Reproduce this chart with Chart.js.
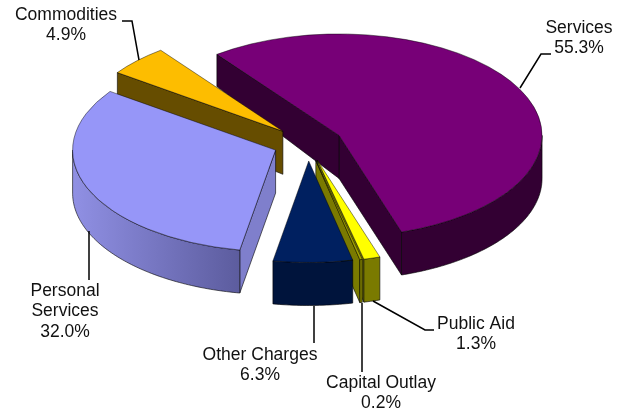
<!DOCTYPE html>
<html>
<head>
<meta charset="utf-8">
<style>html,body{margin:0;padding:0;background:#fff}canvas{display:block}</style>
<script src="https://cdn.jsdelivr.net/npm/chart.js@4"></script>
</head>
<body>
<canvas id="c" width="621" height="412"></canvas>
<script>
const categories = ['Services','Public Aid','Capital Outlay','Other Charges','Personal Services','Commodities'];
const shares = [55.3,1.3,0.2,6.3,32.0,4.9];
const topColors = ['#770077','#ffff00','#a3a300','#002060','#9696f8','#fdbd00'];
const wallColors = ['#330033','#7a7a00','#7a7a00','#00143c','#7f7fcc','#664d00'];
const labelLines = [['Services'],['Public Aid'],['Capital Outlay'],['Other Charges'],['Personal','Services'],['Commodities']];

const TILT = 0.5, EXPLODE = 35, CY = 143.5, FONT = '17.5px "Liberation Sans", Arial, sans-serif';
const drawOrder = [0,5,4,1,2,3];
const labelPlace = [
  {x:579,y:28,lead:[[551,54],[541,54],[520,88]]},
  {x:476,y:324,lead:[[434,330],[425,330],[373,301]]},
  {x:381,y:383,lead:[[362,372],[362,303]]},
  {x:260,y:355,lead:[[314,343],[314,306]]},
  {x:65,y:291,lead:[[89,280],[89,231]]},
  {x:66,y:15,lead:[[122,21],[132,21],[139,60]]}
];
const depthAt = y => 43 - 0.17*Math.max(0, 118 - y);

function wallFill(ctx,i,x0,x1){
  if(i===4 && x1-x0>60){
    const g=ctx.createLinearGradient(x0,0,x1,0);
    g.addColorStop(0,'#9090e4');g.addColorStop(1,'#5c5c9e');return g;
  }
  return wallColors[i];
}
function strokeFill(ctx,pts,i){
  const xs=pts.map(p=>p[0]);
  const all=pts.concat(pts.slice().reverse().map(p=>[p[0],p[1]+depthAt(p[1])]));
  ctx.beginPath();
  all.forEach((p,n)=>n?ctx.lineTo(p[0],p[1]):ctx.moveTo(p[0],p[1]));
  ctx.closePath();
  ctx.fillStyle=wallFill(ctx,i,Math.min(...xs),Math.max(...xs));
  ctx.fill();
  ctx.lineWidth=0.8;ctx.strokeStyle='rgba(0,0,0,0.75)';ctx.stroke();
}
const pie3d = {
  id:'pie3d',
  beforeDatasetDraw(chart){
    const ctx=chart.ctx, arcs=chart.getDatasetMeta(0).data;
    drawOrder.forEach(i=>{
      const e=arcs[i], a0=e.startAngle, a1=e.endAngle, r=e.outerRadius, mid=(a0+a1)/2;
      const ax=e.x+EXPLODE*Math.cos(mid), ay=CY+TILT*EXPLODE*Math.sin(mid);
      const pt=(a)=>[ax+r*Math.cos(a), ay+TILT*r*Math.sin(a)];
      // cut faces that look downward
      if(Math.sin(a1+Math.PI/2)>0) strokeFill(ctx,[[ax,ay],pt(a1)],i);
      if(Math.sin(a0-Math.PI/2)>0) strokeFill(ctx,[[ax,ay],pt(a0)],i);
      // rim: the parts of the arc on the near side
      for(let k=0;k<2;k++){
        const lo=Math.max(a0,k*2*Math.PI), hi=Math.min(a1,k*2*Math.PI+Math.PI);
        if(hi>lo){
          const pts=[];const n=Math.max(2,Math.ceil((hi-lo)*60));
          for(let s=0;s<=n;s++) pts.push(pt(lo+(hi-lo)*s/n));
          strokeFill(ctx,pts,i);
        }
      }
      // top face, drawn by the library's arc element
      ctx.save();
      ctx.translate(ax,ay);ctx.scale(1,TILT);ctx.translate(-e.x,-e.y);
      e.draw(ctx);
      ctx.restore();
    });
    return false;
  },
  afterDatasetsDraw(chart){
    const ctx=chart.ctx;
    ctx.save();
    ctx.font=FONT;ctx.fillStyle='#111';ctx.textAlign='center';ctx.textBaseline='middle';
    ctx.strokeStyle='#000';ctx.lineWidth=1.5;ctx.lineJoin='miter';
    categories.forEach((c,i)=>{
      const p=labelPlace[i];
      ctx.beginPath();
      p.lead.forEach((q,n)=>n?ctx.lineTo(q[0],q[1]):ctx.moveTo(q[0],q[1]));
      ctx.stroke();
      const lines=labelLines[i].concat([shares[i].toFixed(1)+'%']);
      lines.forEach((t,n)=>ctx.fillText(t,p.x,p.y+n*20.5));
    });
    ctx.restore();
  }
};
new Chart(document.getElementById('c'),{
  type:'pie',
  data:{labels:categories,datasets:[{data:shares,backgroundColor:topColors,borderColor:'rgba(0,0,0,0.75)',borderWidth:0.8,radius:203}]},
  options:{
    responsive:false,animation:false,events:[],rotation:-37,
    layout:{padding:{right:5}},
    plugins:{legend:{display:false},tooltip:{enabled:false},title:{display:false}}
  },
  plugins:[pie3d]
});
</script>
</body>
</html>
